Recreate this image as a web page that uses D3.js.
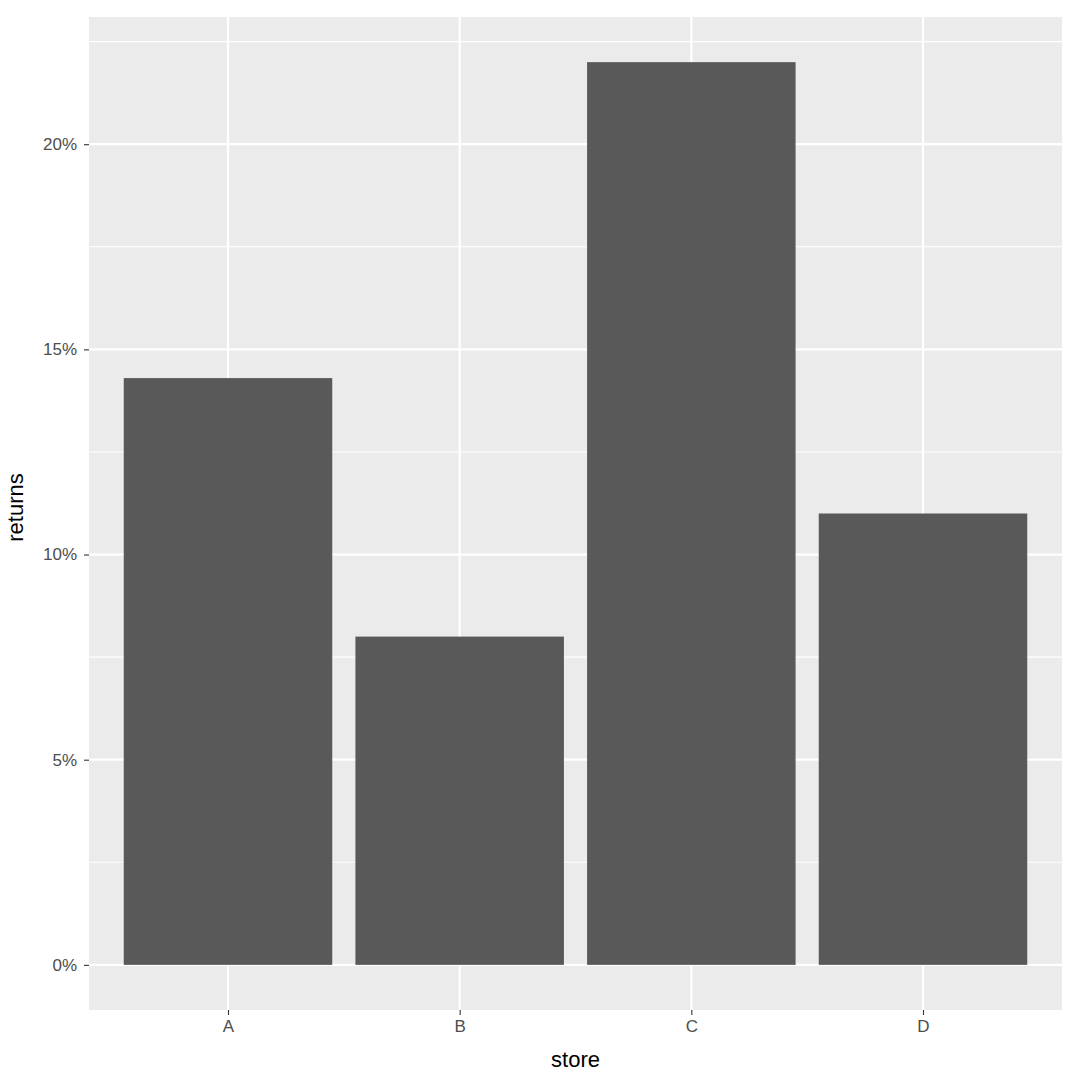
<!DOCTYPE html>
<html>
<head>
<meta charset="utf-8">
<script src="https://cdn.jsdelivr.net/npm/d3@7"></script>
<style>
  body { margin: 0; background: #fff; }
  text { font-family: "Liberation Sans", Arial, sans-serif; }
</style>
</head>
<body>
<div id="chart"></div>
<script>
// data
const stores = ["A", "B", "C", "D"];
const returns = [0.143, 0.08, 0.22, 0.11];
const yTicks = [0, 0.05, 0.10, 0.15, 0.20];
const yMinor = [0.025, 0.075, 0.125, 0.175, 0.225];

const svgWidth = 1068, svgHeight = 1084;
const margin = { top: 17, right: 6, bottom: 74, left: 89 };
const width = svgWidth - margin.left - margin.right;
const height = svgHeight - margin.top - margin.bottom;

const svg = d3.select("#chart").append("svg")
  .attr("width", svgWidth)
  .attr("height", svgHeight);

const g = svg.append("g")
  .attr("transform", `translate(${margin.left}, ${margin.top})`);

// ggplot style scales: discrete expand 0.6, continuous expand 5%
const x = d3.scalePoint()
  .domain(stores)
  .range([0, width])
  .padding(0.6);
const step = x.step();
const barW = step * 0.9;

const yMax = d3.max(returns);
const y = d3.scaleLinear()
  .domain([-yMax * 0.05, yMax * 1.05])
  .range([height, 0]);

// panel background
g.append("rect")
  .attr("width", width)
  .attr("height", height)
  .attr("fill", "#ebebeb");

// minor gridlines
g.selectAll(".minor")
  .data(yMinor)
  .enter().append("line")
  .attr("x1", 0).attr("x2", width)
  .attr("y1", d => y(d)).attr("y2", d => y(d))
  .attr("stroke", "#fff").attr("stroke-width", 1.1);

// major gridlines
g.selectAll(".major")
  .data(yTicks)
  .enter().append("line")
  .attr("x1", 0).attr("x2", width)
  .attr("y1", d => y(d)).attr("y2", d => y(d))
  .attr("stroke", "#fff").attr("stroke-width", 2.2);

g.selectAll(".vgrid")
  .data(stores)
  .enter().append("line")
  .attr("x1", d => x(d)).attr("x2", d => x(d))
  .attr("y1", 0).attr("y2", height)
  .attr("stroke", "#fff").attr("stroke-width", 2.2);

// bars
g.selectAll(".bar")
  .data(stores)
  .enter().append("rect")
  .attr("x", d => x(d) - barW / 2)
  .attr("width", barW)
  .attr("y", (d, i) => y(returns[i]))
  .attr("height", (d, i) => y(0) - y(returns[i]))
  .attr("fill", "#595959");

// axes
const yAxis = g.append("g")
  .call(d3.axisLeft(y).tickValues(yTicks).tickFormat(d3.format(".0%")).tickSize(5).tickPadding(7));
const xAxis = g.append("g")
  .attr("transform", `translate(0, ${height})`)
  .call(d3.axisBottom(x).tickSize(5).tickPadding(5));

[xAxis, yAxis].forEach(a => {
  a.select(".domain").remove();
  a.selectAll(".tick line").attr("stroke", "#333").attr("stroke-width", 1.1);
  a.selectAll(".tick text").attr("fill", "#4d4d4d").style("font-size", "17px");
});

// axis titles
svg.append("text")
  .attr("x", margin.left + width / 2)
  .attr("y", svgHeight - 17)
  .attr("text-anchor", "middle")
  .style("font-size", "22px")
  .attr("fill", "#000")
  .text("store");

svg.append("text")
  .attr("transform", `translate(23, ${margin.top + height / 2 - 6}) rotate(-90)`)
  .attr("text-anchor", "middle")
  .style("font-size", "22px")
  .attr("fill", "#000")
  .text("returns");
</script>
</body>
</html>
